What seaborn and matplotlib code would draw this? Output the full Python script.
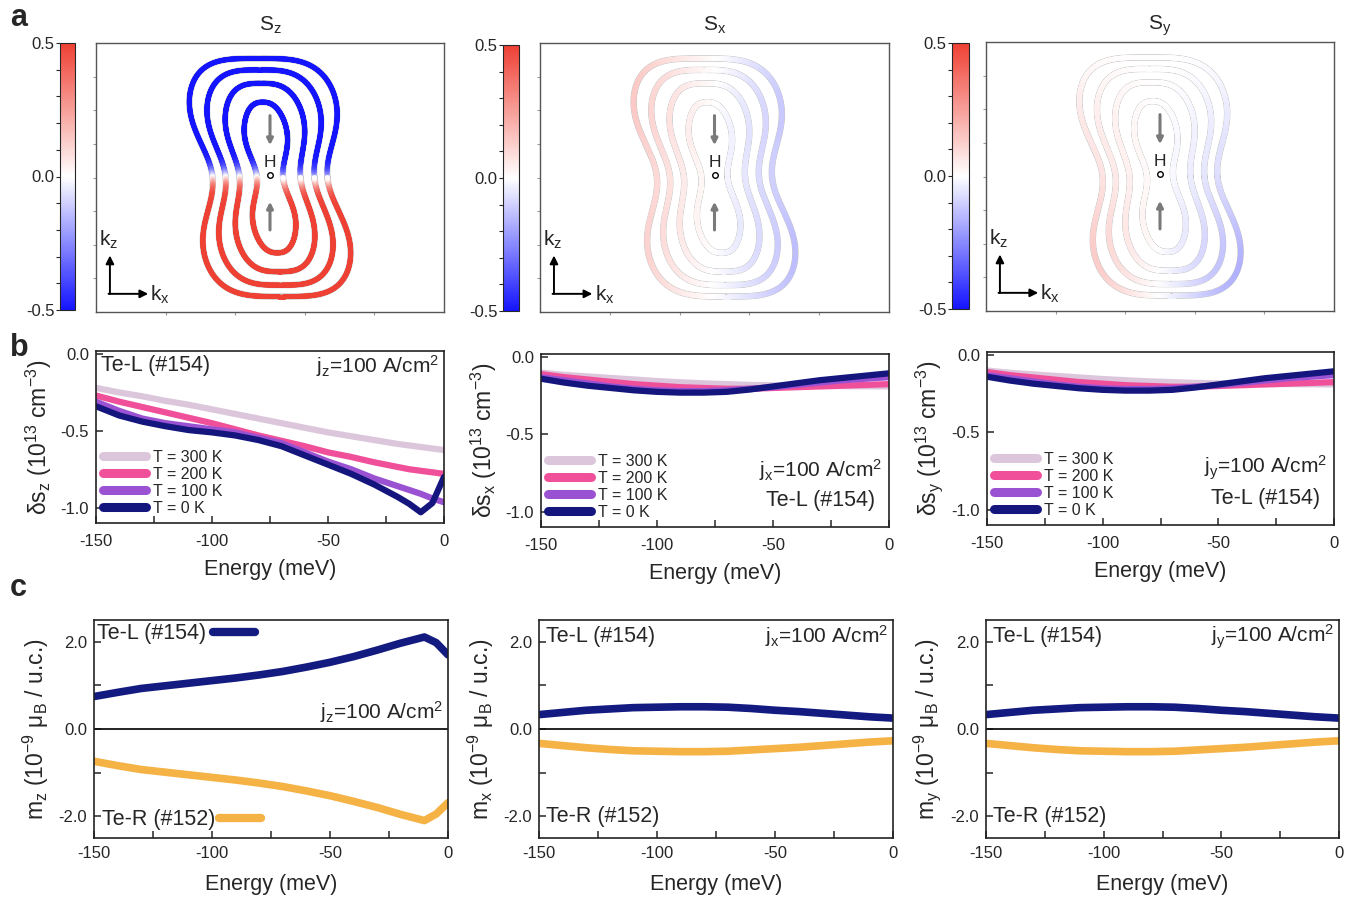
import numpy as np
import pandas as pd
import matplotlib
matplotlib.use('Agg')
import matplotlib.pyplot as plt
import seaborn as sns
from matplotlib.collections import LineCollection
from matplotlib.colors import LinearSegmentedColormap, Normalize
from matplotlib.lines import Line2D
from matplotlib.ticker import MultipleLocator, FormatStrFormatter

# ---------------- dados ----------------
# contornos de Fermi (painel a): meia-largura do lobo, meia-largura da cintura, meia-altura, expoente
largura_lobo = [0.46, 0.36, 0.255, 0.15]
largura_cintura = [0.33, 0.255, 0.175, 0.075]
meia_altura = [0.885, 0.80, 0.70, 0.56]
expoente = [0.55, 0.6, 0.66, 0.8]
cisalhamento = 0.075

componentes = ['z', 'x', 'y']

# painel b: delta s (10^13 cm^-3)
rotulos_T = ['T = 300 K', 'T = 200 K', 'T = 100 K', 'T = 0 K']
cores_T = ['#dcc6dc', '#f0509a', '#9b52d2', '#15157e']

energia_z = [-150, -140, -130, -120, -110, -100, -90, -80, -70, -60, -50, -40, -30, -20, -15, -10, -5, 0]
ds_z_300 = [-0.22, -0.25, -0.275, -0.305, -0.33, -0.36, -0.39, -0.42, -0.45, -0.48, -0.51, -0.535, -0.56, -0.585, -0.595, -0.605, -0.615, -0.625]
ds_z_200 = [-0.27, -0.31, -0.345, -0.38, -0.415, -0.45, -0.49, -0.53, -0.565, -0.60, -0.64, -0.67, -0.705, -0.735, -0.75, -0.76, -0.77, -0.78]
ds_z_100 = [-0.31, -0.37, -0.42, -0.45, -0.47, -0.49, -0.51, -0.545, -0.58, -0.64, -0.70, -0.75, -0.81, -0.86, -0.885, -0.91, -0.94, -0.965]
ds_z_0 = [-0.34, -0.40, -0.44, -0.47, -0.495, -0.51, -0.53, -0.56, -0.60, -0.66, -0.72, -0.78, -0.85, -0.93, -0.975, -1.03, -0.97, -0.80]

energia_xy = [-150, -140, -130, -120, -110, -100, -90, -80, -70, -60, -50, -40, -30, -20, -10, 0]
ds_x_300 = [-0.10, -0.115, -0.125, -0.135, -0.145, -0.155, -0.163, -0.17, -0.175, -0.18, -0.183, -0.185, -0.187, -0.188, -0.189, -0.19]
ds_x_200 = [-0.11, -0.13, -0.145, -0.16, -0.175, -0.185, -0.195, -0.20, -0.205, -0.205, -0.20, -0.195, -0.19, -0.185, -0.18, -0.175]
ds_x_100 = [-0.13, -0.15, -0.17, -0.19, -0.205, -0.215, -0.22, -0.22, -0.215, -0.205, -0.195, -0.18, -0.165, -0.15, -0.14, -0.13]
ds_x_0 = [-0.14, -0.165, -0.185, -0.20, -0.215, -0.225, -0.23, -0.23, -0.225, -0.21, -0.19, -0.17, -0.15, -0.135, -0.12, -0.105]
ds_y_300 = [-0.10, -0.115, -0.125, -0.135, -0.145, -0.155, -0.163, -0.17, -0.175, -0.18, -0.183, -0.185, -0.187, -0.188, -0.189, -0.19]
ds_y_200 = [-0.11, -0.13, -0.145, -0.16, -0.175, -0.185, -0.195, -0.20, -0.205, -0.205, -0.20, -0.195, -0.19, -0.185, -0.18, -0.175]
ds_y_100 = [-0.13, -0.15, -0.17, -0.19, -0.205, -0.215, -0.22, -0.22, -0.215, -0.205, -0.195, -0.18, -0.165, -0.15, -0.14, -0.13]
ds_y_0 = [-0.14, -0.165, -0.185, -0.20, -0.215, -0.225, -0.23, -0.23, -0.225, -0.21, -0.19, -0.17, -0.15, -0.135, -0.12, -0.105]

# painel c: magnetizacao (10^-9 muB / u.c.)
rotulos_amostra = ['Te-L (#154)', 'Te-R (#152)']
cores_amostra = ['#131a80', '#f5b245']
m_z_L = [0.745, 0.84, 0.93, 0.99, 1.05, 1.11, 1.17, 1.24, 1.32, 1.42, 1.53, 1.66, 1.81, 1.97, 2.04, 2.11, 1.98, 1.70]
m_z_R = [-0.74, -0.84, -0.93, -0.99, -1.05, -1.11, -1.17, -1.24, -1.32, -1.42, -1.53, -1.66, -1.80, -1.96, -2.03, -2.10, -1.95, -1.69]
m_x_L = [0.33, 0.38, 0.43, 0.46, 0.49, 0.50, 0.51, 0.51, 0.50, 0.47, 0.43, 0.40, 0.36, 0.32, 0.28, 0.25]
m_x_R = [-0.33, -0.38, -0.43, -0.47, -0.50, -0.51, -0.52, -0.52, -0.51, -0.48, -0.45, -0.42, -0.38, -0.34, -0.30, -0.27]
m_y_L = [0.33, 0.38, 0.43, 0.46, 0.49, 0.50, 0.51, 0.51, 0.50, 0.47, 0.43, 0.40, 0.36, 0.32, 0.28, 0.25]
m_y_R = [-0.33, -0.38, -0.43, -0.47, -0.50, -0.51, -0.52, -0.52, -0.51, -0.48, -0.45, -0.42, -0.38, -0.34, -0.30, -0.27]

# ---------------- estilo ----------------
sns.set_style('ticks')
plt.rcParams['font.family'] = ['Liberation Sans', 'DejaVu Sans']
plt.rcParams['mathtext.fontset'] = 'custom'
plt.rcParams['mathtext.rm'] = 'Liberation Sans'
plt.rcParams['mathtext.it'] = 'Liberation Sans:italic'
plt.rcParams['mathtext.bf'] = 'Liberation Sans:bold'
plt.rcParams['mathtext.default'] = 'regular'
plt.rcParams['axes.unicode_minus'] = False

W_PX, H_PX = 1357, 907
fig = plt.figure(figsize=(W_PX / 100, H_PX / 100), dpi=100)


def caixa(x0, y0, x1, y1):
    return [x0 / W_PX, 1 - y1 / H_PX, (x1 - x0) / W_PX, (y1 - y0) / H_PX]


cmap_spin = LinearSegmentedColormap.from_list('spin', ['#1414ff', '#ffffff', '#ef4034'])
norma = Normalize(-0.5, 0.5)

spin = {
    'z': lambda x, y: -0.5 * np.tanh(y / 0.08),
    'x': lambda x, y: -0.3 * x,
    'y': lambda x, y: -0.22 * x * (1 - y),
}


# Função para gerar a forma de um contorno (haltere torcido), amostrada por comprimento de arco
def forma_contorno(w, wm, h, p):
    fi = np.linspace(0, 2 * np.pi, 40000)
    c, s = np.cos(fi), np.sin(fi)
    x = w * np.sign(c) * np.abs(c) ** p
    y = h * np.sign(s) * np.abs(s) ** p
    x = x * (1 - (1 - wm / w) * np.exp(-(y / (0.42 * h)) ** 2)) - cisalhamento * y
    arco = np.concatenate([[0], np.cumsum(np.hypot(np.diff(x), np.diff(y)))])
    alvo = np.linspace(0, arco[-1], 1200)
    return np.interp(alvo, arco, x), np.interp(alvo, arco, y)


# Função para desenhar a textura de spin (linha a)
def desenhar_textura(ax, cax, comp):
    for w, wm, h, p in zip(largura_lobo, largura_cintura, meia_altura, expoente):
        x, y = forma_contorno(w, wm, h, p)
        ax.plot(x, y, color='#c6c6c6', lw=4.6, zorder=1)
        pts = np.column_stack([x, y]).reshape(-1, 1, 2)
        seg = np.concatenate([pts[:-1], pts[1:]], axis=1)
        lc = LineCollection(seg, cmap=cmap_spin, norm=norma, linewidths=3.6,
                            capstyle='round', zorder=2)
        lc.set_array(spin[comp]((x[:-1] + x[1:]) / 2, (y[:-1] + y[1:]) / 2))
        ax.add_collection(lc)

    seta = dict(arrowstyle='-|>', color='#7a7a7a', lw=2.2, mutation_scale=9, shrinkA=0, shrinkB=0)
    ax.annotate('', xy=(0, 0.24), xytext=(0, 0.46), arrowprops=seta)
    ax.annotate('', xy=(0, -0.18), xytext=(0, -0.39), arrowprops=seta)
    ax.text(0, 0.11, 'H', ha='center', va='center', fontsize=12.5)
    ax.plot(0, 0.02, 'o', mfc='white', mec='black', ms=4, mew=1, zorder=3)

    eixo = dict(arrowstyle='-|>', color='black', lw=1.4, mutation_scale=12, shrinkA=0, shrinkB=0)
    ax.annotate('', xy=(-0.92, -0.58), xytext=(-0.92, -0.865), arrowprops=eixo)
    ax.annotate('', xy=(-0.70, -0.865), xytext=(-0.928, -0.865), arrowprops=eixo)
    ax.text(-0.93, -0.46, 'k$_z$', ha='center', va='center', fontsize=15)
    ax.text(-0.63, -0.875, 'k$_x$', ha='center', va='center', fontsize=15)

    ax.set_xlim(-1, 1)
    ax.set_ylim(-1, 1)
    ax.set_xticks(np.linspace(-1, 1, 6)[1:-1])
    ax.set_yticks(np.linspace(-1, 1, 9)[1:-1])
    ax.tick_params(length=2, color='#999999', labelleft=False, labelbottom=False)
    for sp in ax.spines.values():
        sp.set_visible(True)
        sp.set_color('#555555')
        sp.set_linewidth(1.0)
    ax.set_title('S$_%s$' % comp, fontsize=15, pad=9)

    sm = plt.cm.ScalarMappable(norm=norma, cmap=cmap_spin)
    cb = fig.colorbar(sm, cax=cax, ticks=[-0.5, 0, 0.5])
    cb.ax.yaxis.set_ticks_position('left')
    cb.ax.yaxis.set_label_position('left')
    cb.ax.yaxis.set_minor_locator(MultipleLocator(0.1))
    cb.ax.yaxis.set_major_formatter(FormatStrFormatter('%.1f'))
    cb.ax.tick_params(which='both', length=3, width=0.8, direction='out', labelsize=12, pad=1)
    cb.outline.set_linewidth(0.8)


# Função para formatar eixos das linhas b e c
def formatar_eixo(ax, xpad, lpad):
    for sp in ax.spines.values():
        sp.set_visible(True)
        sp.set_linewidth(1.2)
        sp.set_color('#222222')
    ax.set_xlim(-150, 0)
    ax.xaxis.set_major_locator(MultipleLocator(50))
    ax.xaxis.set_minor_locator(MultipleLocator(25))
    ax.xaxis.set_major_formatter(FormatStrFormatter('%d'))
    ax.tick_params(which='both', direction='in', length=5, width=1.1, labelsize=12,
                   top=False, right=False)
    ax.tick_params(axis='x', pad=xpad)
    ax.tick_params(axis='y', pad=5)
    ax.set_xlabel('Energy (meV)', fontsize=15.5, labelpad=lpad)


# Função para a linha b
def desenhar_ds(ax, energia, series, comp, texto_dentro):
    df = pd.DataFrame({
        'energia': energia * len(series),
        'ds': np.concatenate(series),
        'T': np.repeat(rotulos_T, len(energia)),
    })
    sns.lineplot(data=df, x='energia', y='ds', hue='T', hue_order=rotulos_T,
                 palette=cores_T, linewidth=4.5, estimator=None, legend=False, ax=ax)
    formatar_eixo(ax, 8, 7)
    ax.set_ylim(-1.1, 0.02)
    ax.yaxis.set_major_locator(MultipleLocator(0.5))
    ax.yaxis.set_major_formatter(FormatStrFormatter('%.1f'))
    ax.set_ylabel('δs$_%s$ (10$^{13}$ cm$^{-3}$)' % comp, fontsize=16.5, labelpad=5)
    alcas = [Line2D([], [], color=c, lw=6.5) for c in cores_T]
    ax.legend(alcas, rotulos_T, loc='lower left', frameon=False, fontsize=11.5,
              handlelength=2.7, handletextpad=0.4, labelspacing=0.12,
              borderpad=0, borderaxespad=0.45)
    corrente = 'j$_%s$=100 A/cm$^2$' % comp
    if texto_dentro:
        ax.text(0.015, 0.915, 'Te-L (#154)', transform=ax.transAxes, fontsize=15.5, va='center')
        ax.text(0.985, 0.915, corrente, transform=ax.transAxes, fontsize=15, va='center', ha='right')
    else:
        ax.text(0.98, 0.33, corrente, transform=ax.transAxes, fontsize=15, va='center', ha='right')
        ax.text(0.96, 0.155, 'Te-L (#154)', transform=ax.transAxes, fontsize=15.5, va='center', ha='right')


# Função para a linha c
def desenhar_m(ax, energia, serie_L, serie_R, comp, com_alca):
    df = pd.DataFrame({
        'energia': energia * 2,
        'm': np.concatenate([serie_L, serie_R]),
        'amostra': np.repeat(rotulos_amostra, len(energia)),
    })
    ax.axhline(0, color='#111111', lw=1.3, zorder=1)
    sns.lineplot(data=df, x='energia', y='m', hue='amostra', hue_order=rotulos_amostra,
                 palette=cores_amostra, linewidth=5.5, estimator=None, legend=False, ax=ax)
    formatar_eixo(ax, 6, 9)
    ax.set_ylim(-2.5, 2.5)
    ax.yaxis.set_major_locator(MultipleLocator(2))
    ax.yaxis.set_minor_locator(MultipleLocator(1))
    ax.yaxis.set_major_formatter(FormatStrFormatter('%.1f'))
    ax.set_ylabel('m$_%s$ (10$^{-9}$ μ$_B$ / u.c.)' % comp, fontsize=16.5, labelpad=5)
    corrente = 'j$_%s$=100 A/cm$^2$' % comp
    if com_alca:
        leg1 = ax.legend([Line2D([], [], color=cores_amostra[0], lw=6)], [rotulos_amostra[0]],
                         loc='upper left', frameon=False, markerfirst=False, fontsize=15.5,
                         handlelength=1.95, handletextpad=0.3, borderpad=0, borderaxespad=0.15)
        ax.add_artist(leg1)
        ax.legend([Line2D([], [], color=cores_amostra[1], lw=6)], [rotulos_amostra[1]],
                  loc='lower left', frameon=False, markerfirst=False, fontsize=15.5,
                  handlelength=1.95, handletextpad=0.2, borderpad=0, borderaxespad=0.35)
        ax.text(0.985, 0.58, corrente, transform=ax.transAxes, fontsize=15, va='center', ha='right')
    else:
        ax.text(0.02, 0.925, rotulos_amostra[0], transform=ax.transAxes, fontsize=15.5, va='center')
        ax.text(0.02, 0.1, rotulos_amostra[1], transform=ax.transAxes, fontsize=15.5, va='center')
        ax.text(0.985, 0.925, corrente, transform=ax.transAxes, fontsize=15, va='center', ha='right')


# ---------------- montagem ----------------
pos_a = [(96, 43, 444, 312), (540, 43, 889, 312), (986, 42, 1334, 311)]
pos_cb = [(60, 43, 75, 310), (503, 45, 519, 311), (952, 43, 969, 309)]
pos_b = [(96, 351, 444, 523), (541, 354, 889, 527), (987, 352, 1334, 525)]
pos_c = [(94, 620, 448, 838), (539, 620, 893, 838), (986, 620, 1339, 838)]

series_ds = {'z': (energia_z, [ds_z_300, ds_z_200, ds_z_100, ds_z_0]),
             'x': (energia_xy, [ds_x_300, ds_x_200, ds_x_100, ds_x_0]),
             'y': (energia_xy, [ds_y_300, ds_y_200, ds_y_100, ds_y_0])}
series_m = {'z': (energia_z, m_z_L, m_z_R),
            'x': (energia_xy, m_x_L, m_x_R),
            'y': (energia_xy, m_y_L, m_y_R)}

for i, comp in enumerate(componentes):
    ax_a = fig.add_axes(caixa(*pos_a[i]))
    cax = fig.add_axes(caixa(*pos_cb[i]))
    desenhar_textura(ax_a, cax, comp)

    ax_b = fig.add_axes(caixa(*pos_b[i]))
    energia, series = series_ds[comp]
    desenhar_ds(ax_b, energia, series, comp, texto_dentro=(comp == 'z'))

    ax_c = fig.add_axes(caixa(*pos_c[i]))
    energia, sL, sR = series_m[comp]
    desenhar_m(ax_c, energia, sL, sR, comp, com_alca=(comp == 'z'))

for letra, y in [('a', 18), ('b', 348), ('c', 588)]:
    fig.text(10 / W_PX, 1 - y / H_PX, letra, fontsize=22, fontweight='bold', va='center')

fig.savefig('out.png', dpi=100)
